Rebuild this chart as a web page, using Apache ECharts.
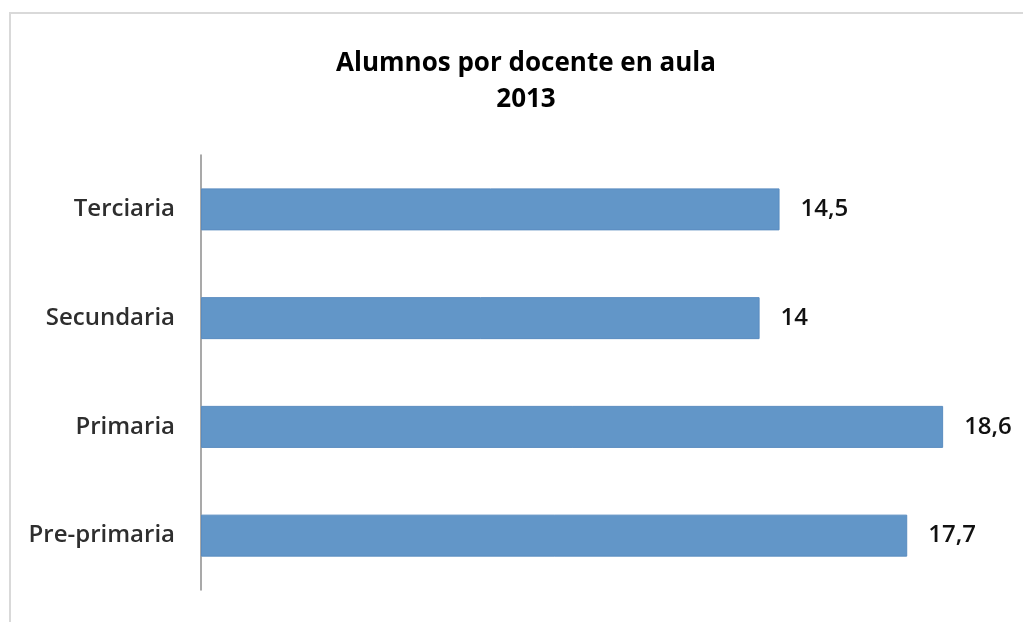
<!DOCTYPE html>
<html>
<head>
<meta charset="utf-8">
<script src="https://cdn.jsdelivr.net/npm/echarts@6/dist/echarts.min.js"></script>
<style>
  html, body { margin: 0; padding: 0; background: #fff; }
  #frame { position: absolute; left: 9px; top: 12px; width: 1030px; height: 640px; border: 2px solid #d9d9d9; box-sizing: border-box; }
  #chart { position: absolute; left: 0; top: 0; width: 1023px; height: 622px; }
</style>
</head>
<body>
<div id="frame"></div>
<div id="chart"></div>
<script>
// categorias de abajo hacia arriba
const categories = ['Pre-primaria', 'Primaria', 'Secundaria', 'Terciaria']
const values = [17.7, 18.6, 14, 14.5]
const titleText = 'Alumnos por docente en aula\n2013'

const chart = echarts.init(document.getElementById('chart'))

const option = {
  animation: false,
  title: {
    text: titleText,
    left: 521,
    top: 41,
    textAlign: 'center',
    textStyle: {
      fontFamily: 'Open Sans',
      fontSize: 26,
      fontWeight: 'bold',
      color: '#000',
      lineHeight: 36
    }
  },
  grid: {
    left: 201,
    right: 24,
    top: 155,
    bottom: 32,
    containLabel: false
  },
  xAxis: {
    type: 'value',
    min: 0,
    max: 20,
    show: false
  },
  yAxis: {
    type: 'category',
    data: categories,
    axisLine: { show: true, lineStyle: { color: '#8c8c8c', width: 1.5 } },
    axisTick: { show: false },
    axisLabel: {
      margin: 26,
      fontFamily: 'Open Sans',
      fontSize: 24,
      fontWeight: 600,
      color: '#2e2e2e',
      padding: [4, 0, 0, 0]
    }
  },
  series: [
    {
      type: 'bar',
      data: values,
      barWidth: 42,
      itemStyle: {
        color: '#6296c8',
        borderColor: '#5a8cc0',
        borderWidth: 1
      },
      label: {
        show: true,
        position: 'right',
        distance: 21,
        fontFamily: 'Open Sans',
        fontSize: 24,
        fontWeight: 600,
        color: '#111',
        padding: [4, 0, 0, 0],
        formatter: (p) => String(p.value).replace('.', ',')
      }
    }
  ]
}

chart.setOption(option)
</script>
</body>
</html>
